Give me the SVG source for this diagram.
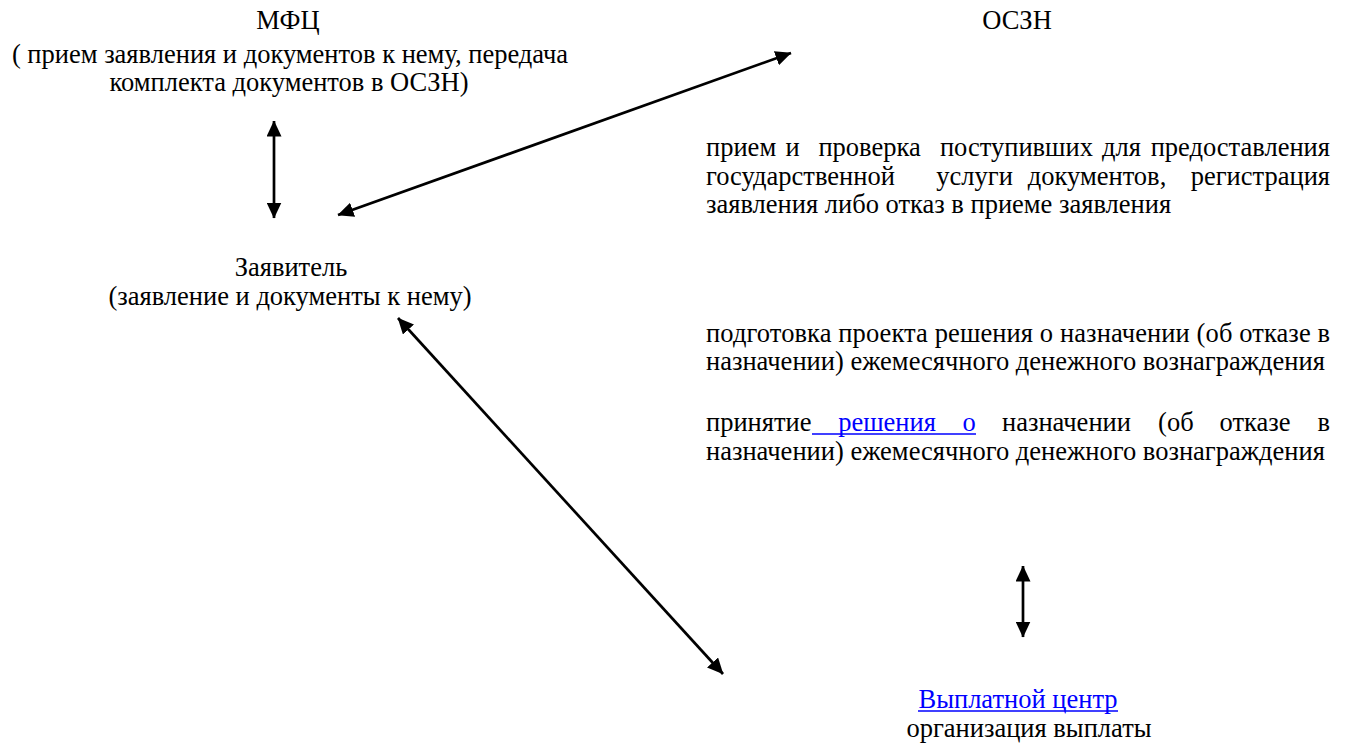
<svg xmlns="http://www.w3.org/2000/svg" width="1345" height="744" viewBox="0 0 1345 744">
<style>
text{font-family:"Liberation Serif","Times New Roman",serif;font-size:26.5px;fill:#000}
.c{text-anchor:middle}
.e{text-anchor:end}
.link{fill:#0000ff}
.conn line{stroke:#000;stroke-width:2.7}
</style>
<defs>
<marker id="ah" viewBox="0 0 16 15" refX="15.5" refY="7.5" markerWidth="16" markerHeight="15" markerUnits="userSpaceOnUse" orient="auto-start-reverse">
<path d="M0,0 L16,7.5 L0,15 Z" fill="#000"/>
</marker>
</defs>
<rect width="1345" height="744" fill="#fff"/>
<g id="mfc">
<text class="c" x="288" y="29">МФЦ</text>
<text class="c" x="290" y="63">( прием заявления и документов к нему, передача</text>
<text class="c" x="289" y="91">комплекта документов в ОСЗН)</text>
</g>
<g id="oszn">
<text class="c" x="1017" y="29">ОСЗН</text>
</g>
<g id="oszn-step1">
<text y="156"><tspan x="706">прием</tspan><tspan x="785.5">и</tspan><tspan x="818.4">проверка</tspan><tspan x="939.9">поступивших</tspan><tspan x="1102">для</tspan></text>
<text class="e" x="1330" y="156">предоставления</text>
<text y="185"><tspan x="706">государственной</tspan><tspan x="936.3">услуги</tspan><tspan x="1027.8">документов,</tspan></text>
<text class="e" x="1330" y="185">регистрация</text>
<text x="706" y="213">заявления либо отказ в приеме заявления</text>
</g>
<g id="oszn-step2">
<text x="706" y="342" textLength="624" lengthAdjust="spacing">подготовка проекта решения о назначении (об отказе в</text>
<text x="706" y="370">назначении) ежемесячного денежного вознаграждения</text>
</g>
<g id="oszn-step3">
<text y="431"><tspan x="706">принятие</tspan><tspan class="link" x="838.2">решения</tspan><tspan class="link" x="962.6">о</tspan><tspan x="1002">назначении</tspan><tspan x="1158.1">(об</tspan><tspan x="1219.6">отказе</tspan></text>
<line x1="812" y1="434" x2="976" y2="434" stroke="#0000ff" stroke-width="1.3"/>
<text class="e" x="1330" y="431">в</text>
<text x="706" y="459.5">назначении) ежемесячного денежного вознаграждения</text>
</g>
<g id="applicant">
<text class="c" x="291" y="276">Заявитель</text>
<text class="c" x="290" y="305">(заявление и документы к нему)</text>
</g>
<g id="payment-center">
<text class="c link" x="1018" y="708">Выплатной центр</text>
<line x1="918" y1="711" x2="1118" y2="711" stroke="#0000ff" stroke-width="1.3"/>
<text class="c" x="1029" y="737">организация выплаты</text>
</g>
<g id="connectors" class="conn">
<line x1="274" y1="121" x2="274" y2="218" marker-start="url(#ah)" marker-end="url(#ah)"/>
<line x1="338" y1="215" x2="791" y2="53" marker-start="url(#ah)" marker-end="url(#ah)"/>
<line x1="398" y1="318" x2="723" y2="674" marker-start="url(#ah)" marker-end="url(#ah)"/>
<line x1="1023" y1="566" x2="1023" y2="637" marker-start="url(#ah)" marker-end="url(#ah)"/>
</g>
</svg>
